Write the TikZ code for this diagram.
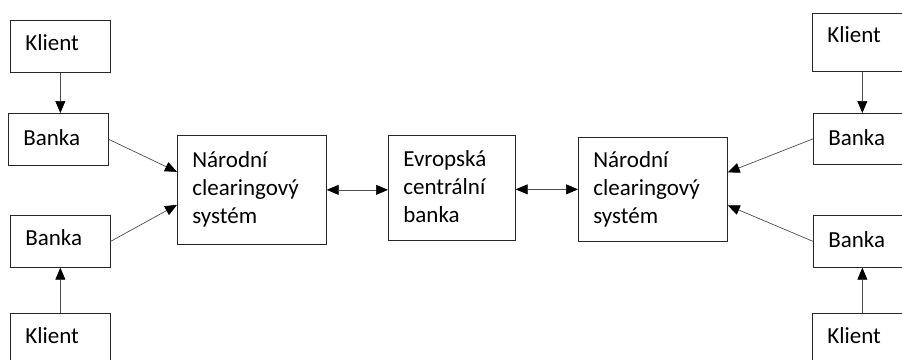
\documentclass[tikz,border=0pt]{standalone}
\usepackage{fontspec}
\setmainfont{Carlito}
\usetikzlibrary{arrows.meta}

\tikzset{
  box/.style={draw=black!85, line width=0.7pt, anchor=north west,
    inner xsep=15pt, inner ysep=0pt, align=left,
    font=\fontsize{23}{28}\selectfont},
  smallbox/.style={box, text width=70pt, text height=30pt, text depth=22pt},
  bigbox/.style={box, text width=119pt, text height=32pt, text depth=74pt},
  tip/.tip={Triangle[length=12pt,width=10pt,color=black]},
  arr/.style={draw=black!70, line width=0.7pt, -tip},
  darr/.style={arr, tip-tip}
}

\begin{document}
\begin{tikzpicture}[x=1pt,y=-1pt]
\clip (0,0) rectangle (902,359);
% left side
\node[smallbox] (kl1) at (10,20) {Klient};
\node[smallbox, text height=32pt, text depth=20pt] (ba1) at (8,113) {Banka};
\node[smallbox] (ba2) at (10,215) {Banka};
\node[smallbox] (kl2) at (10,313) {Klient};
% middle
\node[bigbox, text depth=77pt] (nc1) at (177,135) {Národní\\clearingový\\systém};
\node[bigbox, text width=97pt, text height=31pt] (ecb) at (388,135) {Evropská\\centrální\\banka};
\node[bigbox, text height=30pt] (nc2) at (578,137) {Národní\\clearingový\\systém};
% right side
\node[smallbox, text height=29pt, text depth=29pt] (kl3) at (812,13) {Klient};
\node[smallbox, text height=32pt, text depth=19pt] (ba3) at (813,113) {Banka};
\node[smallbox, text height=32pt, text depth=20pt] (ba4) at (813,215) {Banka};
\node[smallbox] (kl4) at (812,313) {Klient};

\draw[arr] (kl1.south) -- (kl1.south |- ba1.north);
\draw[arr] (kl2.north) -- (kl2.north |- ba2.south);
\draw[arr] (ba1.east) -- ([yshift=18pt]nc1.west);
\draw[arr] (ba2.east) -- ([yshift=-15pt]nc1.west);
\draw[darr] (nc1.east) -- (nc1.east -| ecb.west);
\draw[darr] (ecb.east |- nc2.west) -- (nc2.west);
\draw[arr] (ba3.west) -- ([yshift=17pt]nc2.east);
\draw[arr] (ba4.west) -- ([yshift=-16pt]nc2.east);
\draw[arr] (kl3.south) -- (kl3.south |- ba3.north);
\draw[arr] (kl4.north) -- (kl4.north |- ba4.south);
\end{tikzpicture}
\end{document}
